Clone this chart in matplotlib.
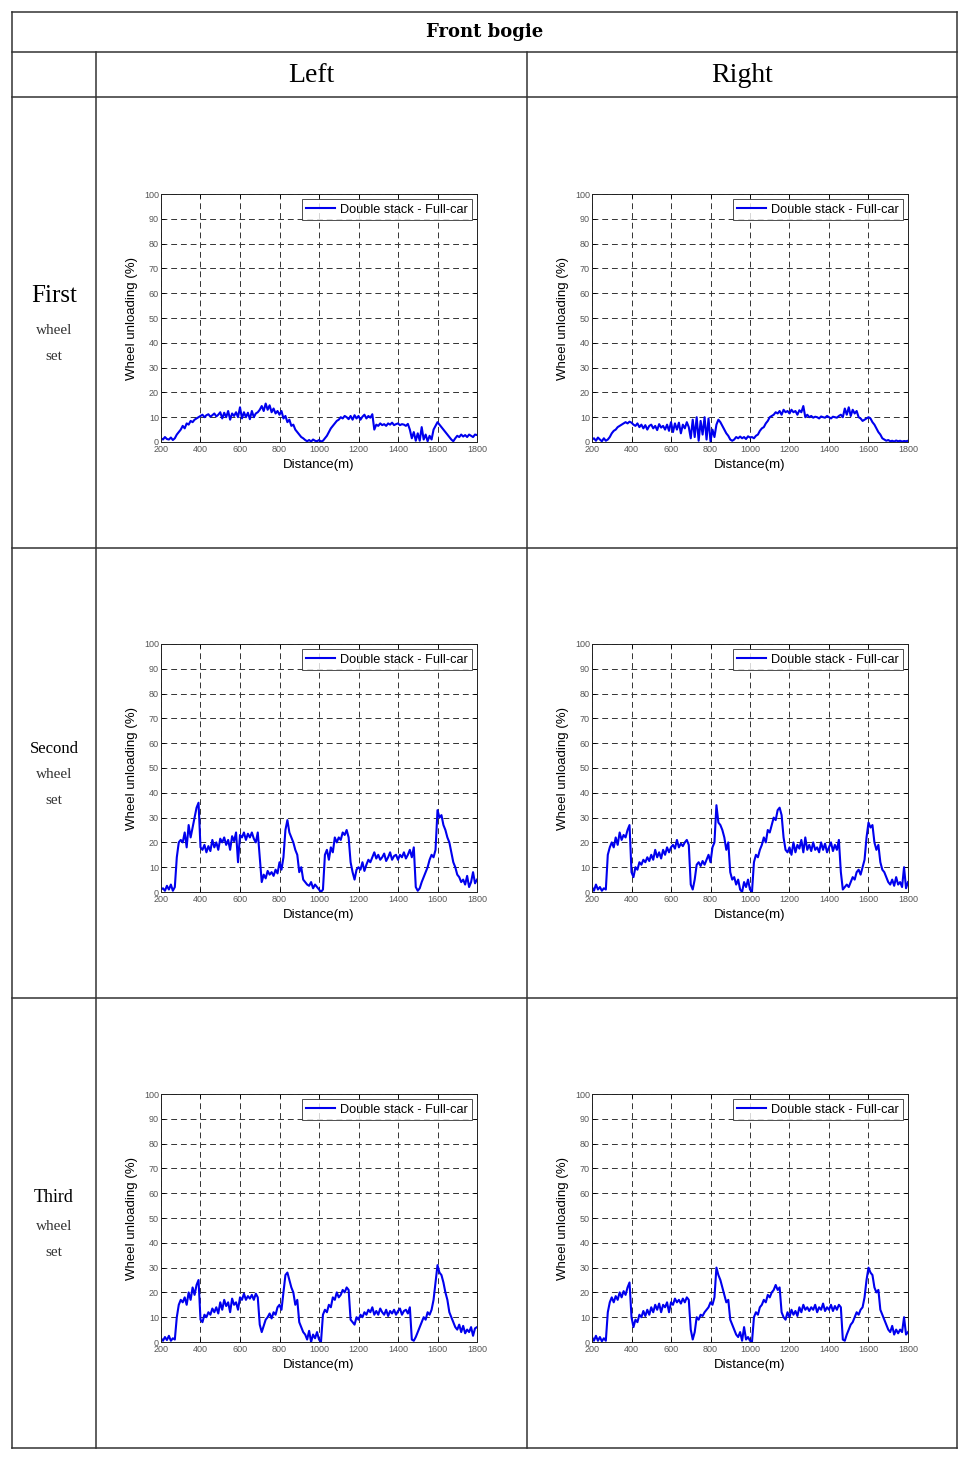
import matplotlib
matplotlib.use("Agg")
import matplotlib.pyplot as plt
from matplotlib.lines import Line2D
import numpy as np

plt.rcParams['font.family'] = ['Liberation Sans', 'DejaVu Sans']

# distance grid (m), every 10 m from 200 to 1800
distance = list(range(200, 1810, 10))

# wheel unloading (%)
first_left = [
    1.5, 1.0, 2.0, 1.2, 1.0, 1.8, 0.8, 1.5, 3.0, 4.0,
    5.0, 6.5, 5.5, 7.5, 7.0, 8.5, 8.0, 9.0, 9.5, 10.0,
    10.5, 11.0, 10.0, 10.8, 11.2, 10.2, 10.8, 11.5, 10.3, 11.0,
    12.0, 9.5, 11.8, 10.0, 12.5, 9.0, 11.5, 10.5, 12.0, 10.0,
    14.0, 9.5, 12.0, 10.0, 11.8, 9.2, 12.5, 10.0, 11.5, 12.0,
    13.0, 14.5, 12.5, 15.5, 13.0, 14.8, 12.0, 13.5, 11.5, 12.5,
    11.0, 12.5, 9.5, 10.5, 8.0, 9.0, 6.5, 7.0, 5.0, 4.0,
    3.0, 2.0, 1.5, 0.8, 0.3, 0.8, 0.2, 1.0, 0.5, 0.3,
    0.8, 0.2, 0.5, 1.5, 2.5, 4.0, 5.5, 6.5, 7.5, 8.5,
    9.0, 10.0, 9.5, 10.5, 10.0, 9.2, 10.5, 9.0, 10.8, 9.5,
    10.5, 9.0, 10.2, 11.0, 9.5, 10.5, 9.8, 11.2, 5.0, 7.0,
    6.5, 7.5, 6.8, 7.2, 6.5, 7.5, 7.0, 7.8, 6.8, 7.2,
    7.5, 6.8, 7.2, 7.0, 6.5, 7.3, 5.0, 1.5, 4.0, 0.5,
    3.5, 0.5, 6.0, 1.0, 3.0, 0.3, 2.5, 1.0, 5.0, 6.5,
    8.0, 7.0, 6.0, 5.0, 4.0, 3.0, 2.0, 1.0, 0.3, 1.5,
    2.5, 2.0, 3.0, 2.2, 2.8, 2.0, 3.0, 2.5, 2.0, 3.0,
    2.8]

first_right = [
    1.0, 1.5, 0.5, 1.8, 1.0, 0.3, 1.5, 0.5, 1.0, 2.0,
    3.5, 4.5, 5.0, 6.0, 6.5, 7.0, 7.5, 8.0, 7.5, 8.2,
    7.8, 7.0, 6.5, 7.5, 6.0, 7.0, 5.5, 6.8, 5.0, 6.5,
    7.0, 5.5, 6.5, 4.8, 7.2, 5.8, 6.5, 5.0, 7.0, 4.5,
    8.0, 4.0, 7.5, 5.0, 7.8, 3.5, 7.0, 5.5, 8.0, 6.0,
    1.5, 9.0, 2.0, 10.0, 0.5, 8.5, 3.0, 10.0, 1.0, 9.5,
    0.3, 5.0, 2.0, 7.0, 9.0, 8.0, 6.5, 5.0, 3.5, 2.5,
    1.0, 0.5, 1.0, 2.0, 1.5, 2.2, 1.5, 2.0, 1.2, 2.3,
    1.8, 2.0, 1.5, 2.5, 3.0, 4.5, 5.5, 6.0, 7.5, 8.5,
    10.0, 10.5, 11.0, 12.0, 11.5, 12.5, 11.0, 13.0, 12.0, 12.5,
    11.5, 13.0, 12.0, 12.5, 11.0, 12.8, 12.0, 14.5, 10.0, 11.0,
    10.0, 10.5, 9.8, 10.2, 10.0, 9.5, 10.3, 10.0, 9.8, 10.5,
    10.0, 9.5, 10.2, 10.0, 9.8, 10.5, 11.0, 10.0, 13.5, 11.0,
    14.0, 10.5, 13.0, 11.5, 12.5, 10.0, 9.5, 8.5, 9.0, 9.5,
    10.0, 9.5, 8.0, 7.0, 5.5, 4.0, 3.0, 1.5, 1.0, 0.5,
    0.8, 0.3, 0.5, 0.2, 0.6, 0.3, 0.5, 0.2, 0.4, 0.3,
    0.5]

second_left = [
    1.0, 1.5, 0.5, 2.5, 1.0, 3.0, 0.5, 2.0, 14.0, 20.0,
    21.0, 20.0, 24.0, 18.0, 27.0, 22.0, 26.0, 30.0, 34.0, 36.0,
    18.0, 17.0, 19.0, 16.0, 18.5, 16.5, 21.0, 18.0, 20.0, 17.0,
    21.5, 20.0, 22.0, 19.0, 21.0, 17.0, 22.5, 20.5, 24.0, 12.0,
    23.0, 22.0, 24.0, 21.0, 23.5, 22.0, 24.0, 21.5, 20.0, 24.0,
    14.0, 4.0, 7.0, 5.5, 8.5, 7.0, 8.0, 6.5, 9.0, 7.5,
    12.0, 9.0, 14.0, 25.0, 29.0, 24.0, 22.0, 20.0, 17.0, 15.0,
    8.0, 10.0, 5.0, 4.0, 3.0, 2.5, 4.0, 1.5, 3.0, 2.0,
    1.0, 0.0, 1.0, 15.0, 17.0, 13.0, 18.0, 16.0, 22.0, 20.0,
    22.0, 21.0, 24.0, 23.0, 25.0, 22.0, 12.0, 8.0, 5.0, 9.0,
    10.0, 9.0, 12.0, 8.5, 11.0, 13.0, 12.0, 14.0, 16.0, 13.5,
    15.0, 13.0, 14.0, 15.5, 12.5, 14.0, 16.0, 13.0, 14.5, 15.0,
    13.0, 15.0, 14.0, 16.0, 13.5, 15.0, 17.0, 14.0, 18.0, 2.0,
    0.5, 1.5, 4.0, 6.0, 8.0, 10.0, 13.0, 15.0, 14.0, 17.0,
    33.0, 30.0, 31.0, 27.0, 25.0, 22.0, 20.0, 16.0, 12.0, 10.0,
    7.0, 6.0, 4.0, 5.0, 3.0, 6.5, 2.0, 4.0, 8.0, 3.5,
    5.0]

second_right = [
    2.0, 0.5, 3.0, 1.0, 2.0, 0.5, 1.5, 1.0, 15.0, 18.0,
    20.0, 18.0, 22.0, 19.0, 24.0, 21.0, 23.0, 22.0, 25.0, 27.0,
    8.0, 6.0, 10.0, 9.0, 12.0, 11.0, 13.0, 12.0, 14.0, 12.5,
    15.0, 13.0, 17.0, 14.0, 16.0, 13.5, 17.0, 15.0, 18.0, 16.0,
    18.0, 19.0, 17.5, 21.0, 18.0, 19.5, 18.5, 20.0, 21.0, 19.0,
    3.0, 1.0, 5.0, 11.0, 12.0, 10.5, 12.5, 11.0, 13.0, 15.0,
    12.0, 18.0, 20.0, 35.0, 28.0, 27.0, 25.0, 22.0, 17.0, 20.0,
    8.0, 5.0, 6.0, 3.0, 5.0, 1.0, 0.0, 4.0, 2.0, 5.0,
    1.0, 0.0, 12.0, 15.0, 14.0, 17.0, 19.0, 22.0, 20.0, 25.0,
    24.0, 27.0, 30.0, 29.0, 33.0, 34.0, 31.0, 22.0, 17.0, 16.0,
    18.0, 15.0, 20.0, 16.0, 19.0, 17.5, 21.0, 16.0, 22.0, 17.0,
    19.0, 16.5, 20.0, 17.0, 18.0, 16.0, 20.0, 17.0, 19.5, 16.0,
    18.0, 20.0, 16.5, 19.0, 17.0, 21.0, 8.0, 1.0, 2.0, 3.0,
    2.0, 4.0, 6.0, 5.0, 8.0, 9.0, 7.0, 10.0, 13.0, 22.0,
    28.0, 26.0, 27.0, 20.0, 17.0, 19.0, 12.0, 9.0, 8.0, 6.0,
    4.0, 3.0, 5.0, 2.5, 6.0, 3.0, 4.0, 2.0, 10.0, 1.5,
    4.0]

third_left = [
    1.5, 0.5, 2.0, 0.8, 2.5, 0.5, 1.5, 1.0, 10.0, 15.0,
    17.0, 16.0, 18.0, 15.0, 20.0, 17.0, 22.0, 19.0, 23.0, 25.0,
    9.0, 8.0, 11.0, 10.0, 12.0, 11.0, 13.5, 12.0, 14.0, 11.5,
    16.0, 13.0, 17.0, 14.5, 16.0, 12.0, 17.5, 15.0, 16.0, 13.0,
    18.0, 17.0, 19.5, 17.0, 18.5, 17.5, 19.0, 17.0, 19.5, 18.0,
    7.0, 4.0, 6.5, 9.0, 10.0, 11.5, 9.5, 12.0, 11.0, 14.0,
    15.0, 13.0, 20.0, 27.0, 28.0, 25.0, 22.0, 20.0, 15.0, 17.0,
    8.0, 6.0, 4.0, 3.0, 1.0, 4.5, 0.0, 3.0, 1.5, 4.0,
    1.0, 0.0, 11.0, 13.0, 12.0, 15.0, 14.0, 18.0, 17.0, 20.0,
    18.0, 19.0, 21.0, 20.0, 22.0, 21.0, 9.0, 8.0, 7.0, 10.0,
    9.0, 11.0, 10.0, 12.0, 11.0, 13.0, 12.0, 14.0, 11.0, 12.5,
    11.0, 13.5, 12.0, 11.0, 13.0, 10.5, 12.5, 11.5, 13.0, 11.0,
    12.5, 13.5, 11.0, 12.5, 13.0, 11.5, 14.0, 1.0, 0.5, 2.0,
    4.0, 6.0, 8.0, 10.0, 9.0, 12.0, 11.0, 13.0, 17.0, 24.0,
    31.0, 28.0, 27.0, 24.0, 20.0, 17.0, 12.0, 10.0, 8.0, 6.0,
    5.0, 7.0, 4.0, 6.5, 3.5, 5.0, 4.0, 6.0, 2.5, 5.5,
    6.0]

third_right = [
    2.0, 0.5, 2.5, 0.5, 2.0, 0.3, 1.5, 0.5, 12.0, 16.0,
    18.0, 16.0, 18.5, 17.0, 20.0, 18.0, 20.5, 19.0, 22.0, 24.0,
    10.0, 6.0, 9.0, 8.0, 11.0, 10.0, 12.5, 10.5, 13.0, 11.0,
    14.0, 12.0, 15.0, 13.0, 15.5, 12.0, 15.0, 14.0, 16.0, 12.0,
    16.0, 15.0, 17.5, 16.0, 17.0, 15.5, 17.5, 16.0, 18.0, 17.0,
    5.0, 1.0, 4.0, 10.0, 9.0, 11.0, 10.5, 12.0, 13.0, 14.0,
    16.0, 15.0, 18.0, 30.0, 27.0, 25.0, 22.0, 19.0, 16.0, 17.0,
    9.0, 7.0, 5.0, 3.0, 2.0, 4.0, 0.5, 6.0, 1.0, 2.0,
    0.5, 0.0, 10.0, 12.0, 11.0, 14.0, 15.0, 17.0, 16.0, 19.0,
    18.0, 20.0, 21.0, 23.0, 21.0, 22.0, 12.0, 10.0, 9.0, 12.0,
    10.0, 13.0, 11.0, 12.5, 10.5, 14.0, 12.0, 15.0, 13.0, 14.0,
    12.5, 14.0, 13.0, 15.0, 12.0, 14.0, 13.0, 15.5, 12.5, 14.0,
    13.0, 15.0, 12.5, 14.5, 13.0, 15.0, 14.0, 1.0, 0.5, 3.0,
    5.0, 7.0, 8.0, 10.0, 12.0, 11.0, 13.0, 14.0, 18.0, 25.0,
    30.0, 28.0, 27.0, 22.0, 20.0, 21.0, 13.0, 11.0, 9.0, 7.0,
    5.0, 4.0, 6.5, 3.0, 5.0, 3.5, 5.0, 4.0, 10.0, 3.0,
    4.0]

series_grid = [[first_left, first_right],
               [second_left, second_right],
               [third_left, third_right]]
row_names = [("First", "wheel", "set"), ("Second", "wheel", "set"), ("Third", "wheel", "set")]
col_names = ["Left", "Right"]
legend_label = "Double stack - Full-car"
x_ticks = list(range(200, 1801, 200))
y_ticks = list(range(0, 101, 10))

W, H = 970, 1465
fig = plt.figure(figsize=(W / 100, H / 100), dpi=100, facecolor="white")


def fx(px):
    return px / W


def fy(py):
    return 1 - py / H


def hline(y, x0, x1):
    fig.add_artist(Line2D([fx(x0), fx(x1)], [fy(y), fy(y)], color="#333333", lw=1.1))


def vline(x, y0, y1):
    fig.add_artist(Line2D([fx(x), fx(x)], [fy(y0), fy(y1)], color="#333333", lw=1.1))


# table frame
for y in [12, 52, 97, 548, 998, 1448]:
    hline(y, 12, 957)
for x in [12, 957]:
    vline(x, 12, 1448)
for x in [96, 527]:
    vline(x, 52, 1448)

fig.text(fx(485), fy(32), "Front bogie", ha="center", va="center",
         fontsize=13, fontweight="bold", family="DejaVu Serif")
fig.text(fx(311), fy(76), col_names[0], ha="center", va="center",
         fontsize=20, family="Liberation Serif")
fig.text(fx(742), fy(76), col_names[1], ha="center", va="center",
         fontsize=20, family="Liberation Serif")

row_text_y = [(296, 331, 357), (749, 775, 801), (1198, 1227, 1253)]
row_first_size = [18, 12, 13]
for (w1, w2, w3), (y1, y2, y3), s in zip(row_names, row_text_y, row_first_size):
    fig.text(fx(54), fy(y1), w1, ha="center", va="center", fontsize=s, family="Liberation Serif")
    fig.text(fx(54), fy(y2), w2, ha="center", va="center", fontsize=11, family="Liberation Serif", color="#333333")
    fig.text(fx(54), fy(y3), w3, ha="center", va="center", fontsize=11, family="Liberation Serif", color="#333333")

ax_left = [161, 592]
ax_w = 316
ax_top = [194, 644, 1094]
ax_h = 248

for r in range(3):
    for c in range(2):
        l = ax_left[c]
        t = ax_top[r]
        ax = fig.add_axes([fx(l), fy(t + ax_h), ax_w / W, ax_h / H])
        ax.plot(distance, series_grid[r][c], color="#0000ee", lw=1.5, label=legend_label)
        ax.set_xlim(200, 1800)
        ax.set_ylim(0, 100)
        ax.set_xticks(x_ticks)
        ax.set_yticks(y_ticks)
        ax.tick_params(direction="in", length=3, width=0.6, labelsize=6.5,
                       labelcolor="#555555", pad=2, top=True, right=True)
        ax.tick_params(axis="y", pad=1.5)
        ax.grid(True, color="#333333", linestyle=(0, (6, 4)), lw=0.7)
        for sp in ax.spines.values():
            sp.set_linewidth(0.7)
            sp.set_color("#222222")
        ax.set_xlabel("Distance(m)", fontsize=9.5, labelpad=4)
        ax.set_ylabel("Wheel unloading (%)", fontsize=9.5, labelpad=4)
        leg = ax.legend(loc="upper right", fontsize=9.2, frameon=True, fancybox=False,
                        handlelength=2.2, handletextpad=0.4, borderpad=0.35,
                        borderaxespad=0.4)
        leg.get_frame().set_edgecolor("#222222")
        leg.get_frame().set_linewidth(0.7)
        for line in leg.get_lines():
            line.set_linewidth(1.5)

fig.savefig("out.png", dpi=100, facecolor="white")
